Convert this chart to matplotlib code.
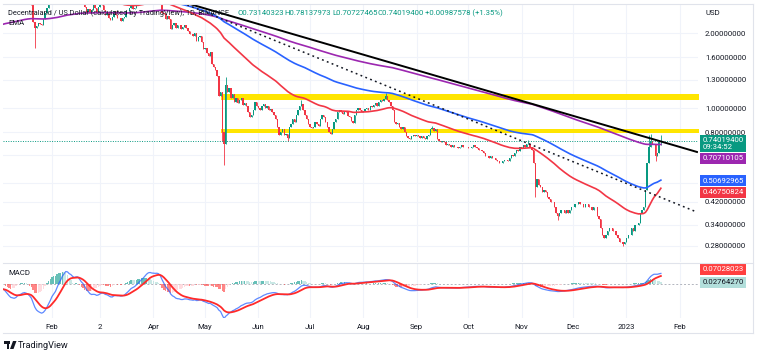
import numpy as np
import pandas as pd
import matplotlib
matplotlib.use("Agg")
import matplotlib.pyplot as plt
import matplotlib.dates as mdates
from matplotlib.patches import Rectangle, Polygon
from matplotlib.lines import Line2D
from matplotlib.transforms import blended_transform_factory

plt.rcParams['font.family'] = ['Roboto', 'DejaVu Sans']

# Decentraland / USD daily closes, 1 Jan 2022 .. 21 Jan 2023
c_2022_01 = [3.32, 3.35, 3.20, 3.19, 2.98, 2.93, 2.84, 2.83, 2.92, 2.88,
             3.00, 3.12, 3.05, 3.04, 3.08, 3.02, 2.90, 2.82, 2.70, 2.58,
             2.22, 2.10, 2.14, 2.20, 2.18, 2.15, 2.28, 2.40, 2.52, 2.62,
             2.70]
c_2022_02 = [2.82, 2.74, 2.78, 3.02, 3.15, 3.10, 3.30, 3.22, 3.30, 3.05,
             2.90, 2.95, 2.85, 2.90, 3.08, 3.02, 2.78, 2.68, 2.72, 2.55,
             2.42, 2.50, 2.40, 2.48, 2.58, 2.52, 2.42, 2.55]
c_2022_03 = [2.62, 2.58, 2.48, 2.36, 2.40, 2.30, 2.26, 2.32, 2.46, 2.36,
             2.30, 2.30, 2.24, 2.30, 2.32, 2.45, 2.46, 2.52, 2.56, 2.50,
             2.52, 2.62, 2.66, 2.75, 2.76, 2.80, 2.90, 2.96, 2.95, 2.88,
             2.80]
c_2022_04 = [2.84, 2.86, 2.90, 2.84, 2.66, 2.40, 2.38, 2.28, 2.34, 2.28,
             2.08, 2.16, 2.20, 2.10, 2.15, 2.16, 2.08, 2.12, 2.16, 2.10,
             2.04, 1.98, 1.99, 1.95, 2.00, 1.86, 1.92, 1.94, 1.84, 1.72]
c_2022_05 = [1.74, 1.66, 1.62, 1.68, 1.50, 1.46, 1.42, 1.34, 1.12, 1.16,
             0.80, 0.72, 1.24, 1.16, 1.20, 1.10, 1.14, 1.06, 1.10, 1.05,
             1.08, 1.10, 1.03, 1.05, 1.02, 0.96, 0.92, 0.94, 0.98, 1.06,
             1.02]
c_2022_06 = [1.00, 0.98, 1.02, 1.04, 1.00, 1.02, 0.98, 0.99, 0.96, 0.94,
             0.90, 0.84, 0.78, 0.80, 0.82, 0.78, 0.79, 0.76, 0.84, 0.86,
             0.90, 0.88, 0.94, 0.98, 1.02, 1.04, 0.98, 0.94, 0.90, 0.86]
c_2022_07 = [0.84, 0.83, 0.84, 0.88, 0.86, 0.85, 0.90, 0.94, 0.92, 0.88,
             0.84, 0.80, 0.79, 0.82, 0.88, 0.90, 0.96, 0.98, 0.96, 0.95,
             0.97, 0.96, 0.93, 0.92, 0.89, 0.87, 0.94, 0.98, 1.00, 0.98,
             0.96]
c_2022_08 = [0.97, 0.99, 1.00, 0.98, 1.02, 1.01, 1.03, 1.05, 1.02, 1.06,
             1.08, 1.07, 1.09, 1.12, 1.08, 1.06, 1.02, 0.98, 0.88, 0.86,
             0.87, 0.84, 0.82, 0.84, 0.80, 0.77, 0.76, 0.75, 0.77, 0.78,
             0.77]
c_2022_09 = [0.78, 0.77, 0.76, 0.77, 0.76, 0.75, 0.77, 0.78, 0.82, 0.83,
             0.81, 0.82, 0.75, 0.74, 0.73, 0.74, 0.73, 0.71, 0.72, 0.71,
             0.70, 0.71, 0.70, 0.70, 0.69, 0.70, 0.71, 0.70, 0.70, 0.70]
c_2022_10 = [0.69, 0.69, 0.70, 0.71, 0.70, 0.69, 0.68, 0.68, 0.67, 0.66,
             0.64, 0.64, 0.63, 0.64, 0.63, 0.63, 0.62, 0.61, 0.60, 0.60,
             0.61, 0.62, 0.62, 0.61, 0.63, 0.65, 0.64, 0.66, 0.68, 0.67,
             0.70]
c_2022_11 = [0.69, 0.71, 0.70, 0.72, 0.72, 0.70, 0.68, 0.60, 0.48, 0.52,
             0.49, 0.48, 0.46, 0.47, 0.46, 0.44, 0.43, 0.42, 0.42, 0.40,
             0.38, 0.37, 0.38, 0.39, 0.39, 0.38, 0.39, 0.38, 0.39, 0.40]
c_2022_12 = [0.40, 0.41, 0.41, 0.42, 0.41, 0.41, 0.40, 0.41, 0.41, 0.40,
             0.40, 0.39, 0.40, 0.40, 0.37, 0.36, 0.33, 0.31, 0.30, 0.31,
             0.32, 0.33, 0.33, 0.32, 0.32, 0.31, 0.30, 0.29, 0.29, 0.285,
             0.29]
c_2023_01 = [0.30, 0.31, 0.31, 0.33, 0.32, 0.34, 0.34, 0.345, 0.38, 0.39,
             0.40, 0.47, 0.60, 0.70, 0.74, 0.72, 0.72, 0.64, 0.66, 0.7303,
             0.7402]
first_open = 3.25

# long wicks that stand out on the chart
wick_high = {"2022-05-13": 1.33, "2022-06-26": 1.08, "2022-08-14": 1.15,
             "2022-09-10": 0.85, "2022-11-05": 0.745, "2023-01-14": 0.78,
             "2023-01-15": 0.79, "2023-01-21": 0.7814}
wick_low = {"2022-01-22": 1.74, "2022-05-11": 0.74, "2022-05-12": 0.59,
            "2022-06-18": 0.74, "2022-11-09": 0.44, "2022-11-22": 0.355,
            "2022-12-30": 0.28, "2023-01-18": 0.61, "2023-01-21": 0.7073}

# indicator values carried in from before the window
ema_seed = {50: 3.50, 100: 3.00, 200: 2.13}
macd_seed = {12: 3.30, 26: 3.35, "signal": -0.056}

# drawings
trend_dates = ["2022-04-05", "2023-02-11"]
trend_prices = [2.83, 0.666]
dotted_dates = ["2022-04-05", "2023-02-11"]
dotted_prices = [2.87, 0.382]
zone_start = "2022-05-10"
zones = [(1.08, 1.135), (0.795, 0.825)]

# labels
header_name = "Decentraland / US Dollar (calculated by TradingView), 1D, BINANCE"
header_ohlc = ["O0.73140323", "H0.78137973", "L0.70727465", "C0.74019400",
               "+0.00987578 (+1.35%)"]
price_ticks = [2.0, 1.6, 1.3, 1.0, 0.8, 0.65, 0.5, 0.42, 0.34, 0.28]
price_ticklabels = ["2.00000000", "1.60000000", "1.30000000", "1.00000000",
                    "0.80000000", "", "", "0.42000000", "0.34000000", "0.28000000"]
month_ticks = ["2022-02-01", "2022-03-01", "2022-04-01", "2022-05-01", "2022-06-01",
               "2022-07-01", "2022-08-01", "2022-09-01", "2022-10-01", "2022-11-01",
               "2022-12-01", "2023-01-01", "2023-02-01"]
month_labels = ["Feb", "2", "Apr", "May", "Jun", "Jul", "Aug", "Sep", "Oct",
                "Nov", "Dec", "2023", "Feb"]
last_close_label = ("0.74019400", "09:34:52")
ema_labels = {200: "0.70710105", 100: "0.50692965", 50: "0.46750824"}
macd_labels = ["0.07028023", "0.02764270"]

UP, DOWN = "#089981", "#f23645"
TXT = "#131722"
GRID = "#f0f3fa"
EMA_COLORS = {50: "#f23645", 100: "#2962ff", 200: "#9c27b0"}

closes = np.array(c_2022_01 + c_2022_02 + c_2022_03 + c_2022_04 + c_2022_05 +
                  c_2022_06 + c_2022_07 + c_2022_08 + c_2022_09 + c_2022_10 +
                  c_2022_11 + c_2022_12 + c_2023_01)
dates = pd.date_range("2022-01-01", periods=len(closes), freq="D")
opens = np.r_[first_open, closes[:-1]]
highs = np.maximum(opens, closes)
lows = np.minimum(opens, closes)
for d, v in wick_high.items():
    highs[dates.get_loc(pd.Timestamp(d))] = v
for d, v in wick_low.items():
    lows[dates.get_loc(pd.Timestamp(d))] = v


def ema(values, span, seed):
    s = pd.Series(np.r_[seed, values])
    return s.ewm(span=span, adjust=False).mean().to_numpy()[1:]


W, H = 760, 356
fig = plt.figure(figsize=(W / 100, H / 100), dpi=100)
fig.patch.set_facecolor("white")


def fx(px):
    return px / W


def fy(py):
    return 1 - py / H


ax = fig.add_axes([fx(3), fy(262), fx(698) - fx(3), fy(4) - fy(262)])
axm = fig.add_axes([fx(3), fy(318), fx(698) - fx(3), fy(263) - fy(318)], sharex=ax)

x = mdates.date2num(dates)
up = closes >= opens
cols = np.where(up, UP, DOWN)

# zones
for lo, hi in zones:
    ax.fill_between([pd.Timestamp(zone_start), pd.Timestamp("2023-02-12")], lo, hi,
                    color="#ffe500", lw=0, zorder=1)

ax.vlines(x, lows, highs, colors=cols, lw=0.6, zorder=2)
ax.bar(x, np.abs(closes - opens), bottom=np.minimum(opens, closes),
       width=0.8, color=cols, lw=0, zorder=2)

for span in (200, 100, 50):
    ax.plot(x, ema(closes, span, ema_seed[span]), color=EMA_COLORS[span], lw=1.2, zorder=3)

ax.plot(pd.to_datetime(trend_dates), trend_prices, color="black", lw=1.4, zorder=4)
ax.plot(pd.to_datetime(dotted_dates), dotted_prices, color="#131722", lw=1.1,
        ls=(0, (1.2, 2.2)), zorder=4)
ax.axhline(closes[-1], color=UP, lw=0.7, ls=(0, (1, 1.5)), zorder=2)

ax.set_yscale("log")
ax.set_ylim(0.2409, 2.615)
ax.set_xlim(pd.Timestamp("2022-01-03 12:00"), pd.Timestamp("2023-02-11 14:00"))
ax.yaxis.set_minor_locator(matplotlib.ticker.NullLocator())
ax.set_yticks(price_ticks)
ax.set_yticklabels(price_ticklabels)
ax.yaxis.tick_right()
ax.tick_params(axis="y", length=0, pad=5, labelsize=5.6, labelcolor=TXT)
ax.tick_params(axis="x", length=0, labelbottom=False)
ax.set_xticks(pd.to_datetime(month_ticks))
ax.grid(True, color=GRID, lw=0.8, zorder=0)
ax.set_axisbelow(True)
for s in ax.spines.values():
    s.set_visible(False)

# price scale labels (stacked the way the price scale does it)
blend = blended_transform_factory(ax.transAxes, ax.transData)
ax.annotate(last_close_label[0] + "\n" + last_close_label[1], xy=(1, closes[-1]),
            xycoords=blend, xytext=(3.2, 2.6), textcoords="offset points",
            va="top", ha="left", fontsize=5.6, color="white", linespacing=1.2,
            bbox=dict(boxstyle="square,pad=0.3", fc=UP, ec="none"), annotation_clip=False)
offsets = {200: -9.2, 100: 0.5, 50: -1.5}
for span in (200, 100, 50):
    ax.annotate(ema_labels[span], xy=(1, float(ema_labels[span])), xycoords=blend,
                xytext=(3.2, offsets[span]), textcoords="offset points",
                va="center", ha="left", fontsize=5.6, color="white",
                bbox=dict(boxstyle="square,pad=0.3", fc=EMA_COLORS[span], ec="none"),
                annotation_clip=False)

# MACD pane
macd = ema(closes, 12, macd_seed[12]) - ema(closes, 26, macd_seed[26])
signal = ema(macd, 9, macd_seed["signal"])
hist = macd - signal
prev = np.r_[hist[0], hist[:-1]]
hcols = np.where(hist >= 0, np.where(hist >= prev, "#26a69a", "#b2dfdb"),
                 np.where(hist < prev, "#ff5252", "#ffcdd2"))
axm.bar(x, hist, width=0.8, color=hcols, lw=0, alpha=0.7, zorder=2)
axm.axhline(0, color="#b2b5be", lw=0.7, ls=(0, (2, 2)), zorder=1)
axm.plot(x, macd, color="#2962ff", lw=0.9, alpha=0.75, zorder=3)
axm.plot(x, signal, color="#ff2a2a", lw=1.3, zorder=4)
axm.set_ylim(-0.32, 0.2)
axm.set_yticks([])
axm.set_xticks(pd.to_datetime(month_ticks))
axm.set_xticklabels(month_labels)
axm.tick_params(axis="x", length=0, pad=4.5, labelsize=5.6, labelcolor=TXT)
axm.grid(True, axis="x", color=GRID, lw=0.8, zorder=0)
axm.set_axisbelow(True)
for s in axm.spines.values():
    s.set_visible(False)

blendm = blended_transform_factory(axm.transAxes, axm.transData)
axm.annotate(macd_labels[0], xy=(1, float(macd_labels[0])), xycoords=blendm,
             xytext=(3.2, 5.2), textcoords="offset points", va="center", ha="left",
             fontsize=5.6, color="white", annotation_clip=False,
             bbox=dict(boxstyle="square,pad=0.3", fc="#ff4040", ec="none"))
axm.annotate(macd_labels[1], xy=(1, float(macd_labels[1])), xycoords=blendm,
             xytext=(3.2, -0.8), textcoords="offset points", va="center", ha="left",
             fontsize=5.6, color=TXT, annotation_clip=False,
             bbox=dict(boxstyle="square,pad=0.3", fc="#b2dfdb", ec="none"))

# frame and pane separators
frame = dict(color="#e0e3eb", lw=0.8)
fig.add_artist(Line2D([fx(3), fx(753)], [fy(4), fy(4)], **frame))
fig.add_artist(Line2D([fx(3), fx(753)], [fy(333), fy(333)], **frame))
fig.add_artist(Line2D([fx(753), fx(753)], [fy(4), fy(333)], **frame))
fig.add_artist(Line2D([fx(3), fx(753)], [fy(262.5), fy(262.5)], **frame))

# header texts
fig.text(fx(8), fy(13), header_name, fontsize=5.3, color=TXT, va="center")
for xp, t in zip([238, 284, 332, 378, 425], header_ohlc):
    fig.text(fx(xp), fy(13), t, fontsize=5.6, color=UP, va="center")
fig.text(fx(8), fy(23), "EMA", fontsize=5.6, color=TXT, va="center")
fig.text(fx(705), fy(13), "USD", fontsize=5.6, color=TXT, va="center")
fig.text(fx(8), fy(273), "MACD", fontsize=5.6, color=TXT, va="center")

# TradingView footer
fig.add_artist(Rectangle((fx(4), fy(343.5)), fx(6) - fx(0), fy(341) - fy(343.5),
                         transform=fig.transFigure, fc=TXT, ec="none"))
fig.add_artist(Rectangle((fx(6.8), fy(349)), fx(2.6) - fx(0), fy(343.5) - fy(349),
                         transform=fig.transFigure, fc=TXT, ec="none"))
fig.add_artist(Polygon([(fx(13), fy(341)), (fx(16.5), fy(341)), (fx(13.5), fy(349)),
                        (fx(10), fy(349))], closed=True, transform=fig.transFigure,
                       fc=TXT, ec="none"))
fig.text(fx(18), fy(345.5), "TradingView", fontsize=6.6, color=TXT, va="center")

fig.savefig("out.png", dpi=100)
